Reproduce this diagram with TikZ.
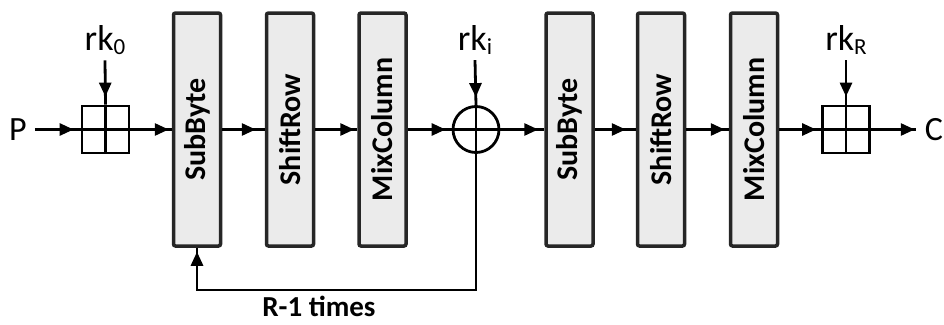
\documentclass[tikz,border=0pt]{standalone}
\usepackage{fontspec}
\setmainfont{Carlito}
\usetikzlibrary{arrows.meta,decorations.markings}
\tikzset{
  conn/.style={line width=2.8pt, black},
  arr/.style={conn, postaction={decorate}, decoration={markings, mark=at position #1 with {\arrow{Triangle[length=14pt,width=12pt]}}}},
  arr/.default=-5pt,
  opbox/.style={draw=black!85, line width=3.5pt, fill=black!8, rounded corners=2pt, minimum width=47pt, minimum height=233pt, inner sep=0pt},
  addbox/.style={draw=black, line width=2.8pt, fill=white, minimum size=47pt, inner sep=0pt},
  xorc/.style={draw=black, line width=2.8pt, fill=white, circle, minimum size=46pt, inner sep=0pt},
  keylab/.style={font=\fontsize{36}{36}\selectfont, anchor=base, inner xsep=0pt, inner ysep=6pt},
  iolab/.style={font=\fontsize{34}{34}\selectfont, inner ysep=2pt},
}
\newcommand{\opname}[1]{\rotatebox{90}{\fontsize{30}{30}\selectfont\bfseries #1}}
\newcommand{\keysub}[1]{\raisebox{-4pt}{\fontsize{23}{23}\selectfont #1}}
\begin{document}
\begin{tikzpicture}[x=1pt,y=-1pt]
  \useasboundingbox (0,0) rectangle (944,324);
  % key additions
  \node[addbox] (k0) at (105.5,129.5) {};
  \node[addbox] (kR) at (846,129.5) {};
  \node[xorc] (xor) at (476,129.5) {};
  \draw[conn] (k0.north) -- (k0.south) (k0.west) -- (k0.east);
  \draw[conn] (kR.north) -- (kR.south) (kR.west) -- (kR.east);
  \draw[conn] (xor.north) -- (xor.south) (xor.west) -- (xor.east);
  % operation boxes
  \node[opbox] (sb1) at (197,129.5) {\opname{SubByte}};
  \node[opbox] (sr1) at (290,129.5) {\opname{ShiftRow}};
  \node[opbox] (mc1) at (382.5,129.5) {\opname{MixColumn}};
  \node[opbox] (sb2) at (569.5,129.5) {\opname{SubByte}};
  \node[opbox] (sr2) at (661,129.5) {\opname{ShiftRow}};
  \node[opbox] (mc2) at (754,129.5) {\opname{MixColumn}};
  % labels
  \node[iolab, inner xsep=8pt] (P) at (18,129.5) {P};
  \node[iolab, inner xsep=9pt] (C) at (934,129.5) {C};
  \node[keylab] (lk0) at (105,50) {rk\keysub{0}};
  \node[keylab] (lki) at (475,50) {rk\keysub{i}};
  \node[keylab] (lkR) at (846,50) {rk\keysub{R}};
  \node[font=\fontsize{29}{29}\selectfont\bfseries, anchor=base, inner sep=0pt] (times) at (319,316) {R-1 times};
  % connectors
  \draw[arr=-7pt] (P.east) -- (k0.west);
  \draw[arr=-8pt] (lk0.south) -- (k0.north);
  \draw[arr=-3pt] (k0.east) -- (sb1.west);
  \draw[arr=-9pt] (sb1.east) -- (sr1.west);
  \draw[arr=-3pt] (sr1.east) -- (mc1.west);
  \draw[arr=-6pt] (mc1.east) -- (xor.west);
  \draw[arr=-8pt] (lki.south) -- (xor.north);
  \draw[arr=-6pt] (xor.east) -- (sb2.west);
  \draw[arr=-10pt] (sb2.east) -- (sr2.west);
  \draw[arr=-4pt] (sr2.east) -- (mc2.west);
  \draw[arr=-5pt] (mc2.east) -- (kR.west);
  \draw[arr=-8pt] (lkR.south) -- (kR.north);
  \draw[arr=-1pt] (kR.east) -- (C.west);
  \coordinate (fb) at (476,290);
  \draw[arr=-4pt] (xor.south) -- (fb) -| (sb1.south);
\end{tikzpicture}
\end{document}
